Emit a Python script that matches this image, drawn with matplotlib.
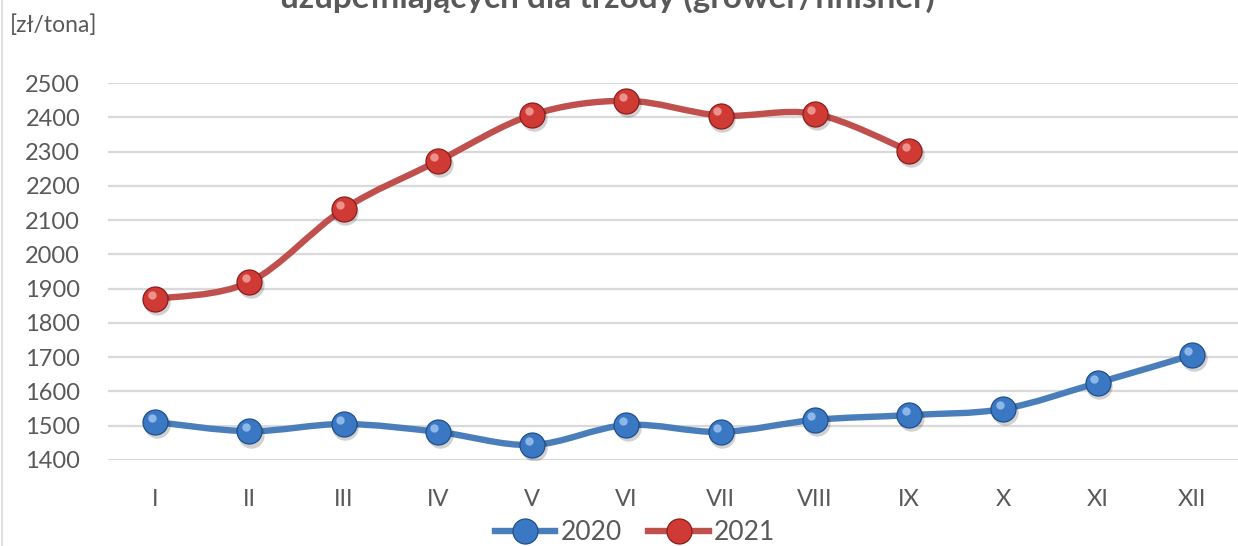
import numpy as np
import matplotlib.pyplot as plt
from matplotlib.path import Path
from matplotlib.patches import PathPatch
from matplotlib.lines import Line2D
from matplotlib.transforms import offset_copy

months = ['I', 'II', 'III', 'IV', 'V', 'VI', 'VII', 'VIII', 'IX', 'X', 'XI', 'XII']
vals_2020 = [1511, 1484, 1505, 1482, 1444, 1502, 1482, 1517, 1531, 1549, 1625, 1706]
vals_2021 = [1870, 1919, 2132, 2272, 2407, 2448, 2405, 2410, 2302]
yticks = [1400, 1500, 1600, 1700, 1800, 1900, 2000, 2100, 2200, 2300, 2400, 2500]

title_line2 = 'uzupełniających dla trzody (grower/finisher)'
unit = '[zł/tona]'

plt.rcParams['font.family'] = ['Lato', 'DejaVu Sans']
grey = '#595959'

fig = plt.figure(figsize=(12.38, 5.46), dpi=100)
ax = fig.add_axes([108 / 1238, 86 / 546, 1131 / 1238, 377 / 546])


def smooth_path(xs, ys):
    # Excel-like smoothed line: Catmull-Rom converted to cubic Bezier
    pts = np.column_stack([xs, ys]).astype(float)
    n = len(pts)
    verts = [pts[0]]
    codes = [Path.MOVETO]
    for i in range(n - 1):
        p0 = pts[i - 1] if i > 0 else pts[i]
        p1 = pts[i]
        p2 = pts[i + 1]
        p3 = pts[i + 2] if i + 2 < n else pts[i + 1]
        c1 = p1 + (p2 - p0) / 6.0
        c2 = p2 - (p3 - p1) / 6.0
        verts += [c1, c2, p2]
        codes += [Path.CURVE4] * 3
    return Path(verts, codes)


series = [
    ('2020', vals_2020, '#4a7ebb', '#3b78c4', '#1f4f8a', '#9cc3ee'),
    ('2021', vals_2021, '#c0504d', '#cf3a35', '#8a1d1a', '#f2a19c'),
]

handles = []
for name, vals, lc, mc, ec, hc in series:
    x = np.arange(len(vals))
    ax.add_patch(PathPatch(smooth_path(x, vals), facecolor='none', edgecolor=lc,
                           lw=4.6, capstyle='round', joinstyle='round', zorder=3))
    # soft shadow under the marker
    ax.plot(x, vals, 'o', ms=19, color='#000000', alpha=0.18, mec='none', zorder=4,
            transform=offset_copy(ax.transData, fig=fig, x=1.2, y=-2.4, units='points'))
    ax.plot(x, vals, 'o', ms=18, mfc=mc, mec=ec, mew=0.9, zorder=5)
    ax.plot(x, vals, 'o', ms=10, mfc=mc, mec='none', alpha=0.9, zorder=6,
            transform=offset_copy(ax.transData, fig=fig, x=-1.0, y=1.3, units='points'))
    ax.plot(x, vals, 'o', ms=6, mfc=hc, mec='none', alpha=0.85, zorder=7,
            transform=offset_copy(ax.transData, fig=fig, x=-2.6, y=3.0, units='points'))
    handles.append(Line2D([], [], color=lc, lw=4.6, marker='o', ms=18,
                          mfc=mc, mec=ec, mew=0.9, label=name))

ax.set_xlim(-0.5, len(months) - 0.5)
ax.set_ylim(1400, 2500)
ax.set_xticks(range(len(months)))
ax.set_xticklabels(months)
ax.set_yticks(yticks)
ax.grid(axis='y', color='#d9d9d9', lw=1.6)
ax.set_axisbelow(True)
for s in ax.spines.values():
    s.set_visible(False)
ax.tick_params(length=0, labelsize=17, colors=grey)
ax.tick_params(axis='x', pad=21)
ax.tick_params(axis='y', pad=20)

fig.text(10 / 1238, 1 - 25 / 546, unit, fontsize=16.5, color=grey, va='center', ha='left')
fig.text(607 / 1238, 1 - 8 / 546, title_line2, fontsize=24, fontweight='bold',
         color=grey, ha='center', va='baseline')

fig.legend(handles=handles, loc='center', bbox_to_anchor=(635 / 1238, 13 / 546),
           ncol=2, frameon=False, fontsize=19, handlelength=2.3, columnspacing=1.0,
           handletextpad=0.2, labelcolor=grey)

fig.add_artist(Line2D([2 / 1238, 2 / 1238], [0, 1], color='#d9d9d9', lw=1.2))

fig.savefig('out.png', dpi=100)
